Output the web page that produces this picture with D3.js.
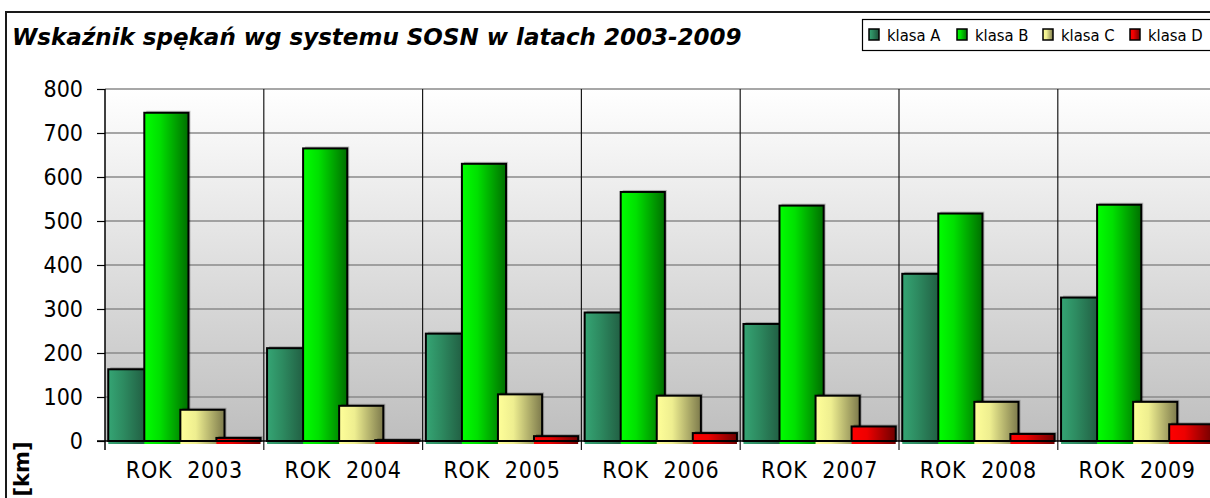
<!DOCTYPE html>
<html><head><meta charset="utf-8">
<script src="https://cdn.jsdelivr.net/npm/d3@7"></script>
<style>body{margin:0;background:#fff}svg{display:block}</style>
</head><body>
<script>
const categories = ["ROK  2003","ROK  2004","ROK  2005","ROK  2006","ROK  2007","ROK  2008","ROK  2009"];
const seriesNames = ["klasa A","klasa B","klasa C","klasa D"];
const klasaA = [163, 211, 244, 292, 266, 380, 326];
const klasaB = [746, 665, 630, 566, 535, 517, 537];
const klasaC = [71, 80, 106, 103, 103, 89, 89];
const klasaD = [7, 2, 11, 18, 33, 16, 38];
const yTicks = [0,100,200,300,400,500,600,700,800];
const title = "Wskaźnik spękań wg systemu SOSN w latach 2003-2009";
const yTitle = "[km]";

const series = [klasaA, klasaB, klasaC, klasaD];
const colors = [
  {l:"#35a574", m:"#2d8a60", r:"#1d4f38"},
  {l:"#00ff00", m:"#00e000", r:"#006f00"},
  {l:"#ffff99", m:"#eeee90", r:"#7d7a4c"},
  {l:"#ff0000", m:"#ee0000", r:"#6e0000"}
];
const FONT = "'DejaVu Sans Condensed', 'DejaVu Sans', sans-serif";

const W = 1210, H = 498;
const svg = d3.select("body").append("svg").attr("width", W).attr("height", H);
const defs = svg.append("defs");

colors.forEach((c,i)=>{
  const g = defs.append("linearGradient").attr("id","g"+i).attr("x1","0").attr("x2","1").attr("y1","0").attr("y2","0");
  g.append("stop").attr("offset","0").attr("stop-color",c.l);
  g.append("stop").attr("offset","0.35").attr("stop-color",c.m);
  g.append("stop").attr("offset","1").attr("stop-color",c.r);
});
const bg = defs.append("linearGradient").attr("id","bg").attr("x1","0").attr("x2","0").attr("y1","0").attr("y2","1");
bg.append("stop").attr("offset","0").attr("stop-color","#ffffff");
bg.append("stop").attr("offset","1").attr("stop-color","#bebebe");

// chart border
svg.append("path").attr("d","M6,498 V12 H1210").attr("fill","none").attr("stroke","#1a1a1a").attr("stroke-width",2);

const x = d3.scaleBand().domain(categories).range([105, 1216.6]).paddingInner(0).paddingOuter(0);
const y = d3.scaleLinear().domain([0,800]).range([441, 89]);
const band = x.bandwidth();
const step = band*0.227, bw = band*0.278, off = (band - (3*step + bw))/2;

// plot background
svg.append("rect").attr("x",105).attr("y",y(800)).attr("width",1216.6-105).attr("height",y(0)-y(800)).attr("fill","url(#bg)");

// grid lines
svg.append("g").selectAll("line").data(yTicks.filter(t=>t>0)).join("line")
  .attr("x1",105).attr("x2",1216).attr("y1",d=>y(d)).attr("y2",d=>y(d))
  .attr("stroke","#8a8a8a").attr("stroke-width",1.5);

// category separators
svg.append("g").selectAll("line").data(categories.slice(1)).join("line")
  .attr("x1",d=>x(d)).attr("x2",d=>x(d)).attr("y1",y(800)).attr("y2",450)
  .attr("stroke","#1a1a1a").attr("stroke-width",1.2);

// bars
const gb = svg.append("g");
series.forEach((vals,si)=>{
  const g = gb.append("g");
  vals.forEach((v,ci)=>{
    const bx = x(categories[ci]) + off + si*step;
    g.append("rect").attr("x",bx+2).attr("y",y(v)-2).attr("width",bw).attr("height",y(0)-y(v)+2)
      .attr("fill","#000").attr("opacity",0.22);
    g.append("rect").attr("x",bx).attr("y",y(0)).attr("width",bw).attr("height",3)
      .attr("fill","url(#g"+si+")");
    g.append("rect").attr("x",bx).attr("y",y(v)).attr("width",bw).attr("height",Math.max(0.5,y(0)-y(v)))
      .attr("fill","url(#g"+si+")").attr("stroke","#000").attr("stroke-width",2);
  });
});

// y axis
const yAxis = d3.axisLeft(y).tickValues(yTicks).tickSize(8).tickPadding(14).tickFormat(d3.format("d"));
const ga = svg.append("g").attr("transform","translate(105,0)").call(yAxis);
ga.select(".domain").attr("stroke","#000").attr("stroke-width",1.5).attr("d","M0,"+y(800)+"V450");
ga.selectAll(".tick line").attr("stroke","#000").attr("stroke-width",1.2);
ga.selectAll("text").attr("font-family",FONT).attr("font-stretch","condensed").attr("font-size",23).attr("fill","#000");

// baseline
svg.append("line").attr("x1",97).attr("x2",1216).attr("y1",y(0)).attr("y2",y(0)).attr("stroke","#000").attr("stroke-width",1.5);

// x labels
const xAxis = d3.axisBottom(x).tickSize(0).tickPadding(21);
const gx = svg.append("g").attr("transform","translate(0,"+y(0)+")").call(xAxis);
gx.select(".domain").remove();
gx.selectAll("text").attr("font-family",FONT).attr("font-stretch","condensed").attr("font-size",23)
  .attr("letter-spacing",0.8).attr("fill","#000")
  .style("white-space","pre").attr("xml:space","preserve");

// title
svg.append("text").attr("x",12).attr("y",45).text(title)
  .attr("font-family","'DejaVu Sans', sans-serif").attr("font-weight","bold").attr("font-style","italic")
  .attr("font-size",23).attr("fill","#000");

// y title
svg.append("text").attr("transform","translate(29,469) rotate(-90)").attr("text-anchor","middle").text(yTitle)
  .attr("font-family","'DejaVu Sans', sans-serif").attr("font-weight","bold").attr("font-size",21).attr("fill","#000");

// legend
svg.append("rect").attr("x",862.5).attr("y",19.5).attr("width",360).attr("height",31).attr("fill","#fff").attr("stroke","#000").attr("stroke-width",1.2);
const lx = [869, 957, 1043, 1130];
seriesNames.forEach((n,i)=>{
  svg.append("rect").attr("x",lx[i]).attr("y",29).attr("width",10).attr("height",11)
    .attr("fill","url(#g"+i+")").attr("stroke","#000").attr("stroke-width",1.5);
  svg.append("text").attr("x",lx[i]+18).attr("y",41).text(n)
    .attr("font-family",FONT).attr("font-stretch","condensed").attr("font-size",16.5).attr("fill","#000");
});
</script>
</body></html>
